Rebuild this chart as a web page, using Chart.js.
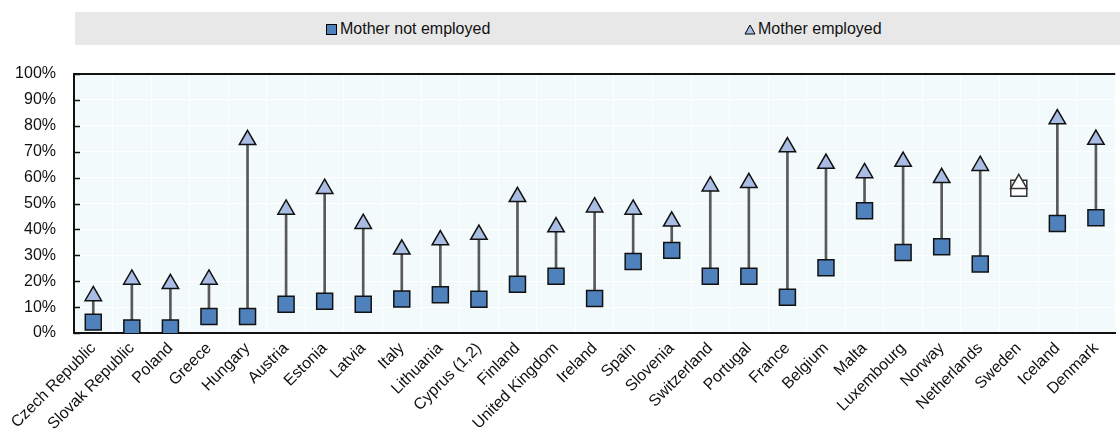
<!DOCTYPE html>
<html>
<head>
<meta charset="utf-8">
<script src="https://cdn.jsdelivr.net/npm/chart.js@4/dist/chart.umd.min.js"></script>
<style>
  html, body { margin: 0; padding: 0; background: #fff; overflow: hidden; width: 1120px; height: 431px; }
  body { position: relative; font-family: "Liberation Sans", Arial, sans-serif; }
  #legend { position: absolute; left: 75px; top: 12px; width: 1045px; height: 33px; background: #e8e8e8; }
  .item { position: absolute; top: 0; height: 33px; line-height: 33px; font-size: 16px; color: #111; white-space: nowrap; }
  .sq { display: inline-block; width: 9px; height: 9px; background: #4f81bd; border: 1px solid #000; vertical-align: -1px; margin-right: 3px; }
  .tri { display: inline-block; vertical-align: -1px; margin-right: 2px; }
  #wrap { position: absolute; left: 0; top: 0; width: 1128px; height: 431px; }
</style>
</head>
<body>
<div id="legend">
  <div class="item" style="left:251px"><span class="sq"></span>Mother not employed</div>
  <div class="item" style="left:669px"><svg class="tri" width="12" height="11"><polygon points="6,1 11,10 1,10" fill="#a9bce3" stroke="#000" stroke-width="1"/></svg>Mother employed</div>
</div>
<div id="wrap"><canvas id="chart" width="1128" height="431"></canvas></div>
<script>
// values, in %
const countries = ["Czech Republic", "Slovak Republic", "Poland", "Greece", "Hungary", "Austria", "Estonia",
  "Latvia", "Italy", "Lithuania", "Cyprus (1,2)", "Finland", "United Kingdom", "Ireland", "Spain", "Slovenia",
  "Switzerland", "Portugal", "France", "Belgium", "Malta", "Luxembourg", "Norway", "Netherlands", "Sweden",
  "Iceland", "Denmark"];
const motherNotEmployed = [4.2, 1.9, 1.9, 6.4, 6.4, 11.1, 12.3, 11.1, 13.1, 14.8, 13.0, 18.8, 21.9, 13.3,
  27.6, 31.9, 21.9, 21.9, 13.8, 25.2, 47.2, 31.1, 33.3, 26.6, 55.9, 42.3, 44.5];
const motherEmployed = [14.3, 20.7, 19.0, 20.7, 74.6, 47.7, 55.7, 42.2, 32.3, 35.9, 38.0, 52.6, 40.9, 48.6,
  47.7, 43.1, 56.7, 58.0, 71.8, 65.4, 61.8, 66.2, 59.9, 64.6, 57.6, 82.6, 74.7];
const yMin = 0, yMax = 100, yStep = 10;

const squareFill = countries.map(c => c === "Sweden" ? "#ffffff" : "#4f81bd");
const triangleFill = countries.map(c => c === "Sweden" ? "#ffffff" : "#a9bce3");
const markerBorder = countries.map(c => c === "Sweden" ? "#333333" : "#111111");

Chart.defaults.font.family = "'Liberation Sans', Arial, sans-serif";
Chart.defaults.font.size = 16;
Chart.defaults.color = "#111";

// plot background + top frame + inward y ticks
const framePlugin = {
  id: "frame",
  beforeDraw(chart) {
    const { ctx, chartArea: a } = chart;
    ctx.save();
    ctx.fillStyle = "#f2fafc";
    ctx.fillRect(a.left, a.top, a.right - a.left, a.bottom - a.top);
    ctx.restore();
  },
  afterDraw(chart) {
    const { ctx, chartArea: a } = chart;
    const y = chart.scales.y;
    ctx.save();
    ctx.strokeStyle = "#111";
    ctx.lineWidth = 2;
    ctx.beginPath();
    ctx.moveTo(a.left - 1, a.top);
    ctx.lineTo(a.right, a.top);
    ctx.stroke();
    ctx.lineWidth = 1.5;
    y.ticks.forEach(t => {
      const py = Math.round(y.getPixelForValue(t.value)) + 0.5;
      ctx.beginPath();
      ctx.moveTo(a.left, py);
      ctx.lineTo(a.left + 6, py);
      ctx.stroke();
    });
    ctx.restore();
  }
};

const chart_context = document.getElementById("chart").getContext("2d");
new Chart(chart_context, {
  type: "bar",
  data: {
    labels: countries,
    datasets: [
      {
        type: "line",
        label: "Mother employed",
        data: motherEmployed,
        showLine: false,
        pointStyle: "triangle",
        pointRadius: 9.5,
        pointHoverRadius: 9.5,
        pointBackgroundColor: triangleFill,
        pointBorderColor: markerBorder,
        pointBorderWidth: 1.5,
        order: 1
      },
      {
        type: "line",
        label: "Mother not employed",
        data: motherNotEmployed,
        showLine: false,
        pointStyle: "rect",
        pointRadius: 11.3,
        pointHoverRadius: 11.3,
        pointBackgroundColor: squareFill,
        pointBorderColor: markerBorder,
        pointBorderWidth: 1.5,
        order: 2
      },
      {
        label: "range",
        data: countries.map((_, i) => [motherNotEmployed[i], motherEmployed[i]]),
        backgroundColor: "#595959",
        barThickness: 2,
        order: 3
      }
    ]
  },
  options: {
    responsive: false,
    animation: false,
    layout: { padding: { top: 74, left: 0, right: 0, bottom: 0 } },
    plugins: {
      legend: { display: false },
      tooltip: { enabled: false },
      title: { display: false }
    },
    scales: {
      x: {
        offset: true,
        afterFit: s => { s.height = 98; },
        grid: { color: "#ffffff", lineWidth: 1, drawTicks: false, offset: true },
        border: { display: true, color: "#111", width: 2 },
        ticks: { maxRotation: 45, minRotation: 45, autoSkip: false, padding: 6, color: "#111" }
      },
      y: {
        min: yMin,
        max: yMax,
        afterFit: s => { s.width = 74; },
        grid: { color: "#ffffff", lineWidth: 1, drawTicks: false },
        border: { display: true, color: "#111", width: 2 },
        ticks: { stepSize: yStep, padding: 18, color: "#111", callback: v => v + "%" }
      }
    }
  },
  plugins: [framePlugin]
});
</script>
</body>
</html>
